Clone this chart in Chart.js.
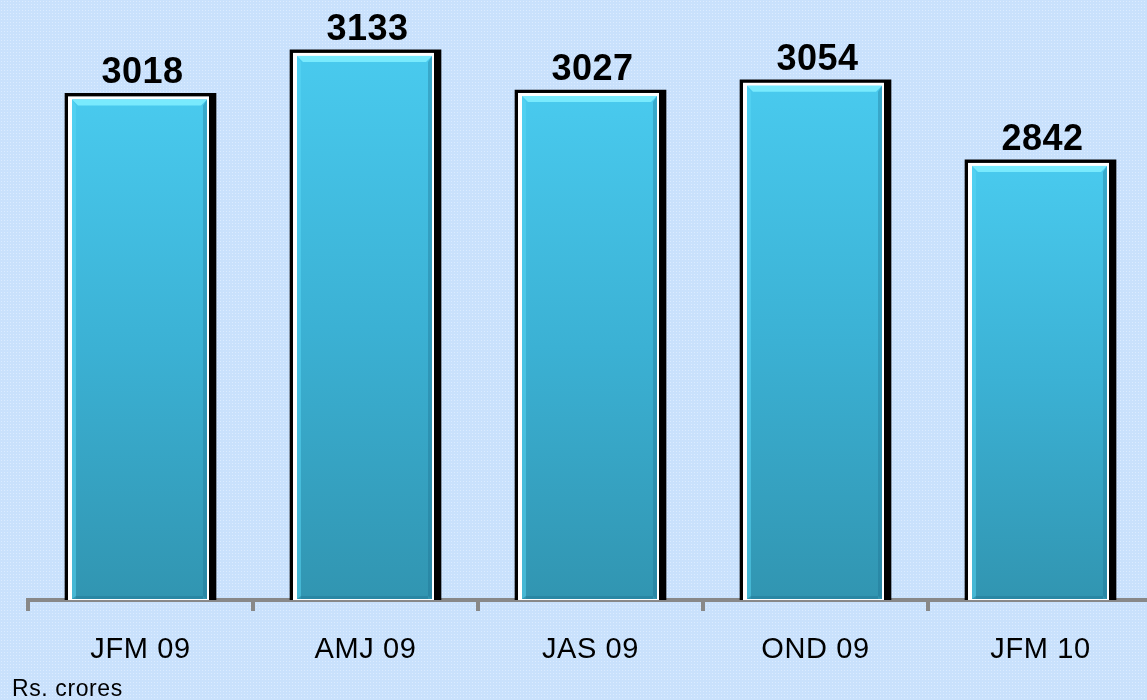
<!DOCTYPE html>
<html>
<head>
<meta charset="utf-8">
<script src="https://cdn.jsdelivr.net/npm/chart.js@4.4.1/dist/chart.umd.min.js"></script>
<style>
  html, body { margin: 0; padding: 0; overflow: hidden; }
  body {
    width: 1147px; height: 700px;
    background-color: #c9e1fc;
    background-image: radial-gradient(#dcecff 0.9px, transparent 1px);
    background-size: 3px 3px;
  }
  canvas { display: block; }
</style>
</head>
<body>
<canvas id="myChart" width="1160" height="700"></canvas>
<script>
const categories = ['JFM 09', 'AMJ 09', 'JAS 09', 'OND 09', 'JFM 10'];
const values = [3018, 3133, 3027, 3054, 2842];
const unitNote = 'Rs. crores';
const yMin = 1678;
const yMax = 3265;

// paints the white frame + bevelled cyan face on top of the black bar
const bevelBars = {
  id: 'bevelBars',
  afterDatasetsDraw(chart) {
    const ctx = chart.ctx;
    const meta = chart.getDatasetMeta(0);
    meta.data.forEach((bar, i) => {
      const x = bar.x, top = bar.y;
      const base = Math.min(bar.base, chart.chartArea.bottom);
      ctx.save();
      ctx.letterSpacing = '0.5px';
      // white frame
      ctx.fillStyle = '#ffffff';
      ctx.fillRect(x - 72.5, top + 3, 141, base - top - 3);
      // cyan face
      const l = x - 68.5, r = x + 66.5, t = top + 6, b = base - 1;
      const g = ctx.createLinearGradient(0, t, 0, b);
      g.addColorStop(0, '#49caee');
      g.addColorStop(0.5, '#3bb1d4');
      g.addColorStop(1, '#3195b1');
      ctx.fillStyle = g;
      ctx.fillRect(l, t, r - l, b - t);
      // top highlight bevel
      ctx.fillStyle = '#79eafd';
      ctx.beginPath();
      ctx.moveTo(l, t);
      ctx.lineTo(r, t);
      ctx.lineTo(r - 6, t + 6);
      ctx.lineTo(l + 6, t + 6);
      ctx.closePath();
      ctx.fill();
      // left bevel
      ctx.fillStyle = 'rgba(90,215,245,0.5)';
      ctx.beginPath();
      ctx.moveTo(l, t);
      ctx.lineTo(l + 4, t + 6);
      ctx.lineTo(l + 4, b - 3);
      ctx.lineTo(l, b);
      ctx.closePath();
      ctx.fill();
      // right shade
      ctx.fillStyle = 'rgba(30,110,140,0.35)';
      ctx.beginPath();
      ctx.moveTo(r, t);
      ctx.lineTo(r - 4, t + 6);
      ctx.lineTo(r - 4, b - 3);
      ctx.lineTo(r, b);
      ctx.closePath();
      ctx.fill();
      // bottom shade
      ctx.fillStyle = 'rgba(30,110,140,0.35)';
      ctx.fillRect(l + 4, b - 3, r - l - 8, 3);
      // value label
      ctx.fillStyle = '#000000';
      ctx.font = 'bold 36px "Liberation Sans", Arial, sans-serif';
      ctx.textAlign = 'center';
      ctx.textBaseline = 'alphabetic';
      ctx.fillText(String(values[i]), x + 2, top - 10);
      ctx.restore();
    });
  },
  afterDraw(chart) {
    const ctx = chart.ctx;
    ctx.save();
    ctx.fillStyle = '#000000';
    ctx.font = '23px "Liberation Sans", Arial, sans-serif';
    ctx.letterSpacing = '0.6px';
    ctx.textAlign = 'left';
    ctx.textBaseline = 'alphabetic';
    ctx.fillText(unitNote, 12, 696);
    ctx.restore();
  },
  beforeDraw(chart) {
    chart.ctx.letterSpacing = '0.6px';
  }
};

const ctx = document.getElementById('myChart').getContext('2d');

const myChart = new Chart(ctx, {
  type: 'bar',
  data: {
    labels: categories,
    datasets: [{
      data: values,
      base: yMin,
      backgroundColor: '#000000',
      borderWidth: 0,
      barThickness: 151
    }]
  },
  options: {
    responsive: false,
    animation: false,
    devicePixelRatio: 1,
    layout: { padding: { left: 28, right: 7, top: 0, bottom: 0 } },
    plugins: {
      legend: { display: false },
      tooltip: { enabled: false },
      title: { display: false }
    },
    scales: {
      x: {
        z: 1,
        afterFit(scale) { scale.height = 100; },
        grid: {
          display: true,
          offset: true,
          drawOnChartArea: false,
          drawTicks: true,
          tickLength: 11,
          tickWidth: 4,
          color: '#888888',
          lineWidth: 4
        },
        border: { display: true, color: '#888888', width: 4 },
        ticks: {
          color: '#000000',
          padding: 22,
          font: { family: '"Liberation Sans", Arial, sans-serif', size: 29 }
        }
      },
      y: {
        display: false,
        min: yMin,
        max: yMax
      }
    }
  },
  plugins: [bevelBars]
});
</script>
</body>
</html>
